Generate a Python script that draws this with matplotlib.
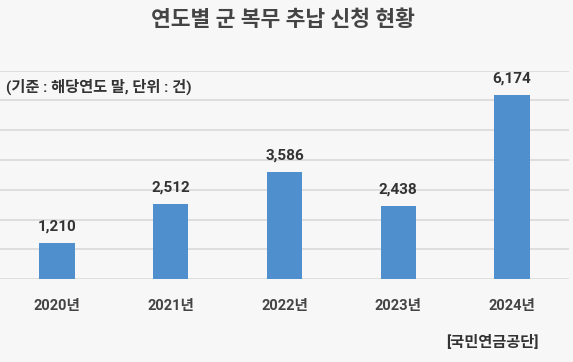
import numpy as np
import matplotlib
matplotlib.use("Agg")
import matplotlib.pyplot as plt

plt.rcParams["font.family"] = ["Roboto", "Noto Sans CJK KR", "DejaVu Sans"]

years = ["2020년", "2021년", "2022년", "2023년", "2024년"]
counts = [1210, 2512, 3586, 2438, 6174]

BG = "#f7f7f7"
BAR = "#4f8fcd"

fig = plt.figure(figsize=(5.73, 3.62), dpi=100, facecolor=BG)
ax = fig.add_axes([0.0, 0.229, 0.993, 0.576], facecolor=BG)

x = np.arange(len(years))
bars = ax.bar(x, counts, width=0.31, color=BAR, zorder=3)

ax.set_xlim(-0.5, len(years) - 0.5)
ax.set_ylim(0, 7000)
ax.set_yticks(np.arange(0, 7001, 1000))
ax.yaxis.grid(True, color="#d9d9d9", linewidth=1.2, zorder=0)
ax.tick_params(axis="y", left=False, labelleft=False)
ax.tick_params(axis="x", bottom=False, pad=11)
ax.set_xticks(x)
ax.set_xticklabels(years, fontsize=10.5, color="#444444", fontweight="bold")
for s in ax.spines.values():
    s.set_visible(False)

for b, v in zip(bars, counts):
    ax.annotate(f"{v:,}", (b.get_x() + b.get_width() / 2, v),
                xytext=(0, 7), textcoords="offset points",
                ha="center", va="bottom", fontsize=11, color="#333333",
                fontweight="bold")

fig.text(0.494, 0.945, "연도별 군 복무 추납 신청 현황", ha="center", va="center",
         fontsize=15.5, fontweight="bold", color="#444444")
fig.text(0.01, 0.76, "(기준 : 해당연도 말, 단위 : 건)", ha="left", va="center",
         fontsize=11, fontweight="bold", color="#333333")
fig.text(0.94, 0.055, "[국민연금공단]", ha="right", va="center",
         fontsize=11, fontweight="bold", color="#333333")

fig.savefig("out.png", dpi=100, facecolor=BG)
